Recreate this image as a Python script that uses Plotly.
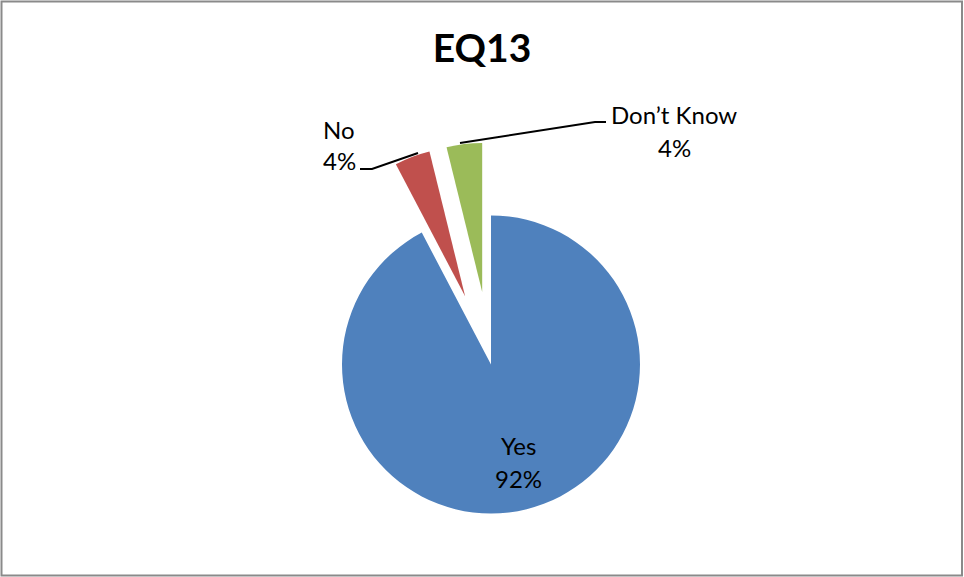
import math
import plotly.graph_objects as go

# ---- data ----
labels = ["Yes", "No", "Don\u2019t Know"]
values = [24, 1, 1]
colors = ["#4F81BD", "#C0504D", "#9BBB59"]
explode = [0.0, 0.49, 0.49]
title_text = "EQ13"

# ---- layout constants (pixels) ----
W, H = 964, 577
CX, CY, R = 491, 364.5, 149  # pie centre and radius
FONT = "Lato"
FS = 24
TRANSPARENT = "rgba(0,0,0,0)"


def px_x(x):
    return x / W


def px_y(y):
    return 1 - y / H


total = sum(values)
fig = go.Figure()

cum = 0.0
for i, v in enumerate(values):
    mid = (cum + v / 2) / total * 2 * math.pi  # clockwise from 12 o'clock
    cum += v
    dx = explode[i] * R * math.sin(mid)
    dy = -explode[i] * R * math.cos(mid)
    cx, cy = CX + dx, CY + dy
    slice_colors = [c if j == i else TRANSPARENT for j, c in enumerate(colors)]
    fig.add_trace(go.Pie(
        labels=labels,
        values=values,
        sort=False,
        direction="clockwise",
        rotation=0,
        marker=dict(colors=slice_colors, line=dict(width=0)),
        textinfo="none",
        hoverinfo="label+percent",
        showlegend=False,
        domain=dict(x=[px_x(cx - R), px_x(cx + R)], y=[px_y(cy + R), px_y(cy - R)]),
    ))

# data labels (two lines each: label, percent)
label_pos = {0: (518, 445, 478), 1: (339, 129.5, 160.5), 2: (674, 114.5, 147.5)}
for i, (x, y1, y2) in label_pos.items():
    pct = f"{round(100 * values[i] / total)}%"
    for txt, y in ((labels[i], y1), (pct, y2)):
        fig.add_annotation(x=px_x(x), y=px_y(y), xref="paper", yref="paper", text=txt,
                           xanchor="center", yanchor="middle", showarrow=False,
                           font=dict(family=FONT, size=FS, color="black"))

# leader lines
leaders = [
    [(418, 153), (372, 169), (360, 169)],
    [(460, 143), (595, 122), (606, 122)],
]
for pts in leaders:
    path = "M " + " L ".join(f"{px_x(x)},{px_y(y)}" for x, y in pts)
    fig.add_shape(type="path", path=path, xref="paper", yref="paper",
                  line=dict(color="black", width=2))

# outer border
fig.add_shape(type="rect", xref="paper", yref="paper",
              x0=px_x(1.5), x1=px_x(962), y0=px_y(575.5), y1=px_y(1.5),
              line=dict(color="#8a8a8a", width=2))

fig.update_layout(
    width=W, height=H,
    margin=dict(l=0, r=0, t=0, b=0),
    paper_bgcolor="white",
    plot_bgcolor="white",
    title=dict(text=f"<b>{title_text}</b>", x=px_x(482), xanchor="center",
               y=px_y(48), yanchor="middle",
               font=dict(family=FONT, size=39, color="black")),
)

fig.write_html("out.html", config={"displayModeBar": False},
               post_script="document.body.style.margin='0';document.body.style.overflow='hidden';")
